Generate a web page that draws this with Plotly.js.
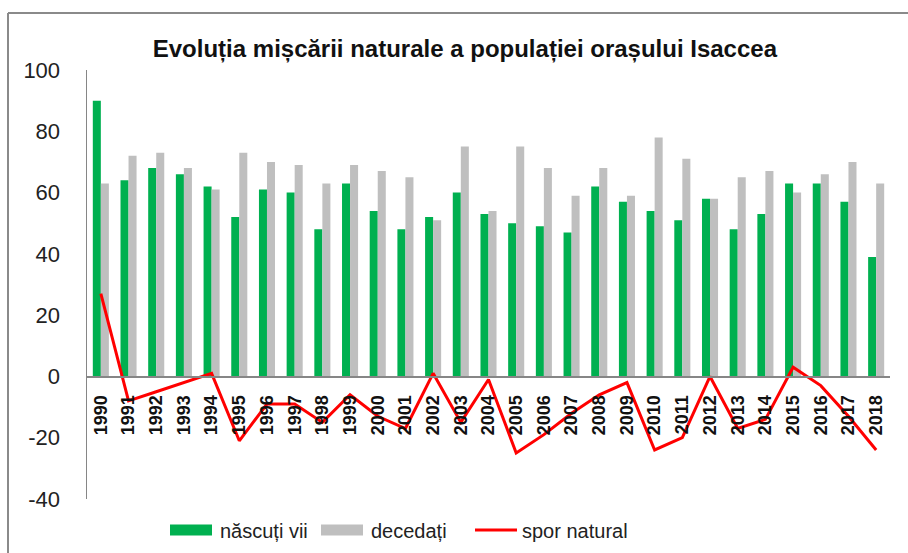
<!DOCTYPE html>
<html>
<head>
<meta charset="utf-8">
<script src="https://cdn.plot.ly/plotly-3.0.1.min.js"></script>
<style>html,body{margin:0;padding:0;background:#fff;}#chart{width:908px;height:553px;}</style>
</head>
<body>
<div id="chart"></div>
<script>
const years = ["1990","1991","1992","1993","1994","1995","1996","1997","1998","1999","2000","2001","2002","2003","2004","2005","2006","2007","2008","2009","2010","2011","2012","2013","2014","2015","2016","2017","2018"];
const nascutiVii = [90,64,68,66,62,52,61,60,48,63,54,48,52,60,53,50,49,47,62,57,54,51,58,48,53,63,63,57,39];
const decedati   = [63,72,73,68,61,73,70,69,63,69,67,65,51,75,54,75,68,59,68,59,78,71,58,65,67,60,66,70,63];
const sporNatural = [27,-8,-5,-2,1,-21,-9,-9,-15,-6,-13,-17,1,-15,-1,-25,-19,-12,-6,-2,-24,-20,0,-17,-14,3,-3,-13,-24];
const yTicks = [-40,-20,0,20,40,60,80,100];
const yTickText = ["-40","-20","0","20","40","60","80","100"];

const L = 87, R = 18, T = 70, B = 54, W = 908, H = 553;
const pw = W - L - R, ph = H - T - B;
const px = v => (v - L) / pw;
const py = v => (H - B - v) / ph;

const traces = [
  {type:'bar', name:'născuți vii', x:years, y:nascutiVii, marker:{color:'#00B050'}},
  {type:'bar', name:'decedați', x:years, y:decedati, marker:{color:'#BFBFBF'}},
  {type:'scatter', mode:'lines', name:'spor natural', x:years, y:sporNatural, line:{color:'#FF0000', width:3}}
];

const layout = {
  width:W, height:H,
  margin:{l:L, r:R, t:T, b:B, autoexpand:false},
  paper_bgcolor:'#fff', plot_bgcolor:'#fff',
  font:{family:'Liberation Sans, Arial, sans-serif', color:'#222'},
  title:{text:'<b>Evoluția mișcării naturale a populației orașului Isaccea</b>', font:{size:24, color:'#111'}, x:0.512, xref:'container', xanchor:'center', y:1-49/H, yref:'container', yanchor:'middle'},
  barmode:'group', bargap:0.42, bargroupgap:0,
  xaxis:{type:'category', anchor:'free', position:40/140, showline:true, linecolor:'#868686', linewidth:1.5,
         showgrid:false, zeroline:false, tickangle:-90, ticks:'', ticklabelstandoff:10,
         tickfont:{size:18, color:'#111', family:'Liberation Sans, Arial, sans-serif', weight:'bold'}},
  yaxis:{range:[-40,100], tickvals:yTicks, ticktext:yTickText, showline:true, linecolor:'#868686', linewidth:1.5,
         showgrid:false, zeroline:false, ticks:'', ticklabelstandoff:21, tickfont:{size:22, color:'#222'}},
  showlegend:true,
  legend:{orientation:'h', x:px(168), xanchor:'left', y:py(530), yanchor:'middle', font:{size:20, color:'#222'},
          itemwidth:42, entrywidth:94, entrywidthmode:'pixels', traceorder:'normal'},
  shapes:[
    {type:'line', xref:'paper', yref:'paper', x0:px(8), x1:px(920), y0:py(13), y1:py(13), line:{color:'#8a8a8a', width:2}},
    {type:'line', xref:'paper', yref:'paper', x0:px(8), x1:px(8), y0:py(13), y1:py(570), line:{color:'#8a8a8a', width:2}}
  ]
};

function fixLegend() {
  const gd = document.getElementById('chart');
  const groups = gd.querySelectorAll('g.legend g.traces');
  groups.forEach((g, i) => {
    if (i > 1) return;
    g.querySelectorAll('g.legendpoints path').forEach(el => {
      el.setAttribute('d', 'M-24,5.5H18V-5.5H-24Z');
    });
  });
  gd.querySelectorAll('clipPath[id^="legend"] rect').forEach(r => r.setAttribute('width', '800'));
  gd.querySelectorAll('g.legend rect.bg').forEach(r => r.setAttribute('width', '800'));
}

Plotly.newPlot('chart', traces, layout, {displayModeBar:false, staticPlot:true}).then(() => {
  fixLegend();
  setTimeout(fixLegend, 50);
});
</script>
</body>
</html>
